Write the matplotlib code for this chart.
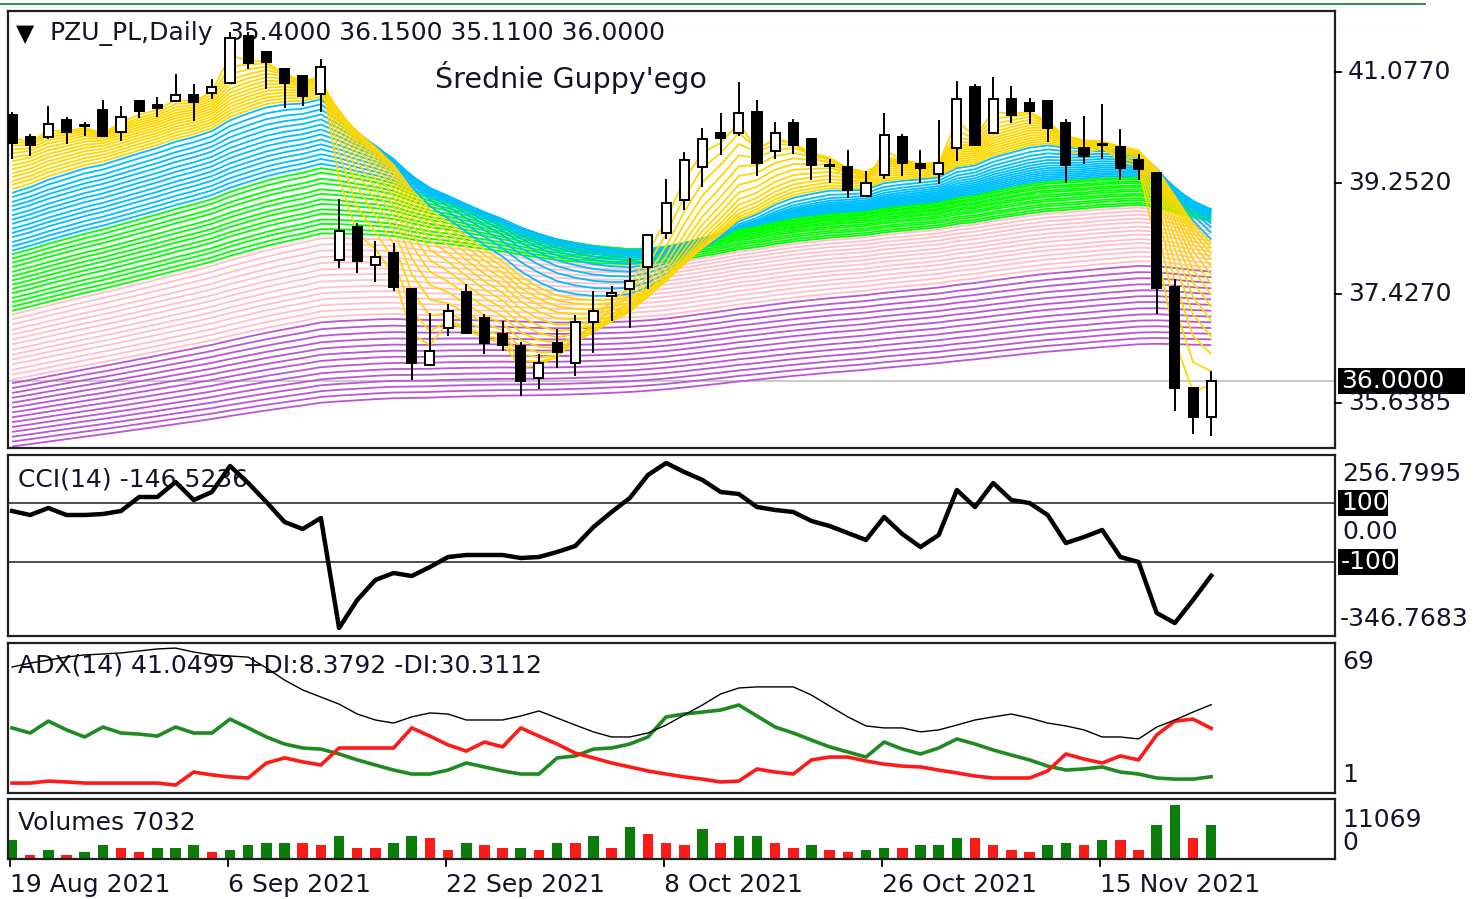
import numpy as np
import matplotlib
matplotlib.use("Agg")
import matplotlib.pyplot as plt
from matplotlib.patches import Rectangle
from matplotlib.lines import Line2D

W, H, DPI = 1473, 899, 100

# ---------------- data ----------------
opens = [40.37, 40.01, 40.01, 40.29, 40.20, 40.45, 40.09, 40.60, 40.53, 40.60,
         40.70, 40.73, 40.90, 41.67, 41.41, 41.13, 41.01, 40.72, 37.99, 38.53,
         37.90, 38.10, 37.51, 36.26, 36.87, 37.46, 37.03, 36.77, 36.57, 36.05,
         36.62, 36.29, 36.97, 37.39, 37.51, 37.87, 38.43, 38.97, 39.52, 40.07,
         40.07, 40.42, 39.78, 40.24, 39.98, 39.54, 39.52, 39.04, 39.38, 40.01,
         39.56, 39.40, 39.83, 40.83, 40.07, 40.63, 40.57, 40.60, 40.24, 39.83,
         39.89, 39.84, 39.63, 39.42, 37.54, 35.88, 35.40]
highs = [40.40, 40.04, 40.50, 40.32, 40.24, 40.60, 40.50, 40.60, 40.65, 41.03,
         40.86, 40.95, 41.72, 41.72, 41.41, 41.13, 41.01, 41.27, 38.97, 38.58,
         38.28, 38.25, 37.51, 37.10, 37.25, 37.58, 37.08, 36.97, 36.62, 36.42,
         36.83, 37.07, 37.46, 37.54, 38.00, 38.40, 39.30, 39.75, 40.14, 40.39,
         40.90, 40.60, 40.24, 40.29, 39.98, 39.63, 39.78, 39.43, 40.39, 40.04,
         39.78, 40.27, 40.91, 40.86, 40.98, 40.83, 40.63, 40.60, 40.29, 40.34,
         40.53, 40.12, 39.71, 39.42, 37.66, 35.88, 36.15]
lows = [39.66, 39.71, 39.99, 39.91, 40.04, 40.02, 39.96, 40.34, 40.35, 40.60,
        40.29, 40.65, 40.90, 41.14, 40.81, 40.50, 40.53, 40.44, 37.87, 37.79,
        37.64, 37.49, 36.03, 36.26, 36.75, 36.79, 36.46, 36.51, 35.77, 35.88,
        36.23, 36.10, 36.47, 37.00, 36.88, 37.53, 38.35, 38.82, 39.20, 39.73,
        40.04, 39.38, 39.66, 39.75, 39.32, 39.27, 39.02, 39.04, 39.33, 39.38,
        39.27, 39.25, 39.63, 39.88, 40.07, 40.25, 40.24, 39.94, 39.27, 39.58,
        39.66, 39.32, 39.32, 37.11, 35.52, 35.14, 35.11]
closes = [39.91, 39.88, 40.22, 40.09, 40.19, 40.02, 40.34, 40.44, 40.49, 40.70,
          40.58, 40.83, 41.64, 41.23, 41.24, 40.90, 40.68, 41.16, 38.46, 37.97,
          38.04, 37.54, 36.29, 36.49, 37.15, 36.79, 36.62, 36.59, 36.00, 36.29,
          36.47, 36.97, 37.15, 37.44, 37.64, 38.40, 38.92, 39.63, 39.98, 39.99,
          40.40, 39.58, 40.07, 39.88, 39.55, 39.53, 39.14, 39.25, 40.04, 39.58,
          39.50, 39.58, 40.63, 39.88, 40.63, 40.37, 40.44, 40.16, 39.55, 39.70,
          39.88, 39.50, 39.48, 37.53, 35.88, 35.40, 36.00]

# Guppy EMA groups: periods and starting levels read at the left edge
gold_periods = [2, 3, 4, 5, 6, 7, 8, 9, 10, 11, 12, 13, 14, 15]
gold_seeds = [40.00, 39.93, 39.87, 39.80, 39.74, 39.67, 39.61, 39.54, 39.48, 39.41, 39.35, 39.28, 39.22, 39.15]
blue_periods = [16, 18, 20, 22, 24, 26, 28, 30, 32, 34, 36, 38, 40, 42]
blue_seeds = [39.09, 39.02, 38.94, 38.87, 38.80, 38.72, 38.65, 38.58, 38.50, 38.43, 38.36, 38.28, 38.21, 38.14]
green_periods = [44, 46, 49, 51, 54, 56, 59, 61, 64, 66, 69, 71, 74, 76]
green_seeds = [38.08, 38.01, 37.94, 37.87, 37.79, 37.72, 37.65, 37.58, 37.51, 37.44, 37.36, 37.29, 37.22, 37.15]
pink_periods = [79, 83, 87, 91, 95, 100, 104, 108, 113, 117, 122, 126, 131, 136]
pink_seeds = [37.09, 37.01, 36.93, 36.84, 36.76, 36.68, 36.60, 36.51, 36.43, 36.35, 36.27, 36.18, 36.10, 36.02]
purple_periods = [142, 150, 158, 166, 174, 182, 190, 199, 208, 217, 226, 235, 244, 253]
purple_seeds = [35.96, 35.88, 35.80, 35.72, 35.64, 35.56, 35.48, 35.40, 35.32, 35.24, 35.16, 35.08, 35.00, 34.92]

cci = [72.9, 59.3, 83.1, 59.3, 59.3, 62.7, 72.9, 120.3, 120.3, 171.2,
       110.2, 137.3, 225.4, 167.8, 103.4, 35.6, 11.9, 49.2, -323.7, -228.8,
       -161.0, -137.3, -147.5, -116.9, -83.1, -76.3, -76.3, -76.3, -86.4, -83.1,
       -66.1, -45.8, 18.6, 69.5, 116.9, 194.9, 235.6, 205.1, 178.0, 137.3,
       130.5, 86.4, 76.3, 69.5, 39.0, 22.0, -1.7, -25.4, 52.5, -5.1,
       -49.2, -8.5, 144.1, 86.4, 167.8, 110.2, 100.0, 59.3, -35.6, -15.3,
       8.5, -83.1, -100.0, -272.9, -306.8, -228.8, -146.5236]

adx = [58.1, 59.9, 61.3, 62.6, 63.6, 64.0, 64.5, 65.4, 66.3, 66.7,
       64.9, 63.6, 63.1, 62.6, 57.7, 52.2, 47.7, 44.5, 41.3, 36.8,
       34.1, 32.7, 35.5, 37.3, 36.8, 34.1, 34.1, 34.1, 35.9, 38.2,
       35.0, 31.8, 28.7, 26.4, 26.4, 28.2, 31.8, 36.4, 40.9, 45.9,
       48.6, 49.1, 49.1, 49.1, 45.4, 40.4, 35.5, 31.4, 30.5, 30.5,
       28.7, 29.6, 31.8, 34.1, 35.5, 36.8, 35.0, 32.7, 31.4, 29.6,
       26.4, 26.4, 25.5, 30.9, 34.1, 37.7, 41.0499]
plus_di = [30.5, 28.2, 33.6, 29.6, 26.4, 30.9, 28.2, 27.7, 26.8, 30.9,
           28.2, 28.2, 34.5, 30.5, 26.4, 23.2, 21.4, 20.9, 18.7, 16.0,
           13.7, 11.4, 9.6, 9.6, 11.4, 14.6, 12.8, 11.0, 9.6, 9.6,
           16.9, 17.8, 20.9, 21.4, 23.2, 26.4, 35.5, 36.8, 37.7, 38.6,
           40.9, 35.9, 30.9, 28.2, 25.0, 21.9, 19.6, 17.3, 24.1, 20.9,
           18.7, 21.4, 25.5, 23.2, 20.5, 18.2, 16.0, 13.2, 11.4, 11.9,
           12.8, 10.5, 9.6, 7.8, 7.3, 7.3, 8.3792]
minus_di = [5.5, 5.5, 6.4, 6.0, 5.5, 5.5, 5.5, 5.5, 5.5, 4.6,
            10.5, 9.2, 8.3, 7.8, 14.6, 16.9, 15.1, 13.7, 21.4, 21.4,
            21.4, 21.4, 30.5, 26.8, 22.8, 20.0, 24.1, 21.9, 30.5, 26.8,
            23.2, 19.1, 16.9, 14.6, 12.8, 11.0, 9.6, 8.3, 7.3, 6.0,
            6.4, 11.9, 10.5, 9.6, 16.0, 17.3, 17.3, 15.5, 14.1, 13.2,
            12.8, 11.4, 10.1, 8.7, 7.8, 7.8, 7.8, 11.0, 18.7, 16.4,
            14.6, 17.8, 16.0, 27.3, 33.6, 34.5, 30.3112]

volumes = [3834, 852, 1917, 852, 1491, 2769, 2343, 1491, 2343, 2343,
           2769, 1491, 1917, 2769, 3195, 3195, 3195, 2769, 4686, 2343,
           2343, 3195, 4686, 4260, 1917, 3195, 2769, 2343, 2343, 1917,
           3195, 3195, 4686, 2343, 6603, 5112, 3195, 2769, 6177, 3195,
           4686, 4686, 3195, 2343, 2769, 1917, 1491, 1917, 2343, 2343,
           2769, 2769, 4260, 4260, 2769, 1917, 1491, 2769, 3195, 2769,
           3834, 3834, 1917, 7029, 11069, 4260, 7032]
vol_up = ("GRGRGGRRGG" "GRGGGGRRGR" "RGGRRGRRGR" "GRGRGRRRGR"
          "GGRRGRRGGR" "GGGRRRRGGR" "GRRGGRG")

date_ticks = [0, 12, 24, 36, 48, 60]
date_labels = ["19 Aug 2021", "6 Sep 2021", "22 Sep 2021", "8 Oct 2021", "26 Oct 2021", "15 Nov 2021"]

price_labels = [41.0770, 39.2520, 37.4270, 35.6385]
last_close = 36.0000

# ---------------- figure ----------------
fig = plt.figure(figsize=(W / DPI, H / DPI), dpi=DPI)
fig.patch.set_facecolor("white")

X0, X1 = 8, 1335          # panel pixel extents
BAR0, STEP = 12, 18.17    # pixel of bar 0, pixels per bar
xlim = ((X0 - BAR0) / STEP, (X1 - BAR0) / STEP)


def add_panel(y0, y1):
    ax = fig.add_axes([X0 / W, 1 - y1 / H, (X1 - X0) / W, (y1 - y0) / H])
    ax.set_xlim(*xlim)
    ax.set_xticks([])
    ax.set_yticks([])
    for s in ax.spines.values():
        s.set_linewidth(1.6)
        s.set_color("#202020")
    return ax


def fx(x):
    return x / W


def fy(y):
    return 1 - y / H


TXT = "#141428"
FONT = "DejaVu Sans"
FS = 18

# ---- price panel ----
axp = add_panel(11, 448)
p_top = 41.077 + (72 - 11) / 60.82
p_bot = 41.077 - (448 - 72) / 60.82
axp.set_ylim(p_bot, p_top)
xs = np.arange(len(closes))

axp.axhline(last_close, color="#c0c0c0", lw=1.2, zorder=0.8)


def ema(values, n, seed):
    a = 2.0 / (n + 1)
    out = [seed]
    for v in values[1:]:
        out.append(a * v + (1 - a) * out[-1])
    return np.array(out)


groups = [
    (purple_periods, purple_seeds, "#BA55D3", 1.0),
    (pink_periods, pink_seeds, "#FFC0CB", 1.1),
    (green_periods, green_seeds, "#00FF00", 1.2),
    (blue_periods, blue_seeds, "#00BFFF", 1.3),
    (gold_periods, gold_seeds, "#FFD700", 1.4),
]
for periods, seeds, col, z in groups:
    for n, s in zip(periods[::-1], seeds[::-1]):
        axp.plot(xs, ema(closes, n, s), color=col, lw=1.3, zorder=z,
                 solid_capstyle="butt")

bw = 0.5
for i in range(len(closes)):
    o, h, l, c = opens[i], highs[i], lows[i], closes[i]
    axp.plot([i, i], [l, h], color="black", lw=1.4, zorder=3)
    lo, hi = min(o, c), max(o, c)
    if hi - lo < 0.02:
        hi = lo + 0.02
    axp.add_patch(Rectangle((i - bw / 2, lo), bw, hi - lo,
                            facecolor="white" if c >= o else "black",
                            edgecolor="black", lw=1.4, zorder=4))

axp.text(fx(16), fy(34), "\u25BC", transform=fig.transFigure, fontsize=17,
         color="black", va="center", ha="left", zorder=0.5, family=FONT)
axp.text(fx(50), fy(33), "PZU_PL,Daily", transform=fig.transFigure,
         fontsize=FS, color=TXT, va="center", ha="left", zorder=0.5, family=FONT)
axp.text(fx(228), fy(33), "35.4000 36.1500 35.1100 36.0000", transform=fig.transFigure,
         fontsize=FS, color=TXT, va="center", ha="left", zorder=0.5, family=FONT)
axp.text(fx(435), fy(77), "Średnie Guppy'ego", transform=fig.transFigure,
         fontsize=20.5, color=TXT, va="center", ha="left", zorder=0.5, family=FONT)

# ---- CCI panel ----
axc = add_panel(455, 636)
c_top = (532.5 - 455) / 0.295
c_bot = (532.5 - 636) / 0.295
axc.set_ylim(c_bot, c_top)
axc.axhline(100, color="#303030", lw=1.2, zorder=1)
axc.axhline(-100, color="#303030", lw=1.2, zorder=1)
axc.plot(xs, cci, color="black", lw=3.2, zorder=3, solid_joinstyle="round")
axc.text(fx(18), fy(479), "CCI(14) -146.5236", transform=fig.transFigure,
         fontsize=FS, color=TXT, va="center", ha="left", zorder=0.5, family=FONT)

# ---- ADX panel ----
axa = add_panel(643, 793)
axa.set_ylim(1, 69)
axa.plot(xs, adx, color="black", lw=1.0, zorder=3)
axa.plot(xs, plus_di, color="#1f8a1f", lw=2.6, zorder=2)
axa.plot(xs, minus_di, color="#ff1a1a", lw=2.6, zorder=2)
axa.text(fx(18), fy(666), "ADX(14) 41.0499 +DI:8.3792 -DI:30.3112", transform=fig.transFigure,
         fontsize=FS, color=TXT, va="center", ha="left", zorder=0.5, family=FONT)

# ---- Volume panel ----
axv = add_panel(799, 859)
axv.set_ylim(0, 11069 * 60 / 54)
vcols = ["#0a7d0a" if f == "G" else "#ff1a1a" for f in vol_up]
axv.bar(xs, volumes, width=0.58, color=vcols, zorder=2)
axv.text(fx(18), fy(823), "Volumes 7032", transform=fig.transFigure,
         fontsize=FS, color=TXT, va="center", ha="left", zorder=0.5, family=FONT)

# ---------------- right-hand scale labels ----------------
def rlabel(y, s, box=None, x=1342):
    if box is not None:
        fig.add_artist(Rectangle((fx(box[0]), fy(y + 13)), (box[1] - box[0]) / W, 26 / H,
                                 transform=fig.transFigure, facecolor="black",
                                 edgecolor="none", zorder=5))
        fig.text(fx(box[0] + 3), fy(y), s, fontsize=FS, color="white",
                 va="center", ha="left", family=FONT, zorder=6)
    else:
        fig.text(fx(x), fy(y), s, fontsize=FS, color=TXT,
                 va="center", ha="left", family=FONT, zorder=6)


def ptoy(p):
    return 72 + (41.077 - p) * 60.82


for p in price_labels:
    y = ptoy(p)
    rlabel(y, f"{p:.4f}", x=1348)
    fig.add_artist(Line2D([fx(1335), fx(1341)], [fy(y), fy(y)], color="black",
                          lw=1.3, transform=fig.transFigure))
rlabel(ptoy(last_close), "36.0000", box=(1338, 1465))

rlabel(474, "256.7995")
rlabel(503, "100", box=(1338, 1388))
rlabel(532, "0.00")
rlabel(562, "-100", box=(1338, 1398))
rlabel(619, "-346.7683", x=1340)
rlabel(662, "69")
rlabel(775, "1")
rlabel(820, "11069")
rlabel(843, "0")

# bottom date ticks & labels
for t, lab in zip(date_ticks, date_labels):
    x = BAR0 + STEP * t - 2
    fig.add_artist(Line2D([fx(x), fx(x)], [fy(859), fy(866)], color="black",
                          lw=1.3, transform=fig.transFigure))
    fig.text(fx(x), fy(885), lab, fontsize=FS, color=TXT, va="center",
             ha="left", family=FONT)

# top window border line
fig.add_artist(Line2D([0, fx(1425)], [fy(4), fy(4)], color="#2E8B57", lw=1.4,
                      transform=fig.transFigure))

fig.savefig("out.png", dpi=DPI, facecolor="white")
